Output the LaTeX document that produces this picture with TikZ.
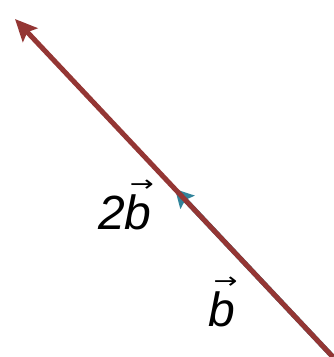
\documentclass[tikz,border=0pt]{standalone}
\usepackage{graphicx}
\usepackage{fontspec}
\setmainfont{Liberation Sans}
\newfontfamily\arrowfont{DejaVu Sans}
\usetikzlibrary{arrows.meta}
\definecolor{vecred}{HTML}{943634}
\definecolor{vecblue}{HTML}{31849B}
\newcommand{\vecbee}{\leavevmode\hbox{\ooalign{\itshape b\cr\hidewidth\kern7pt\raisebox{38pt}{\scalebox{1.3}[1]{\arrowfont\fontsize{22}{22}\selectfont →}}\hidewidth\cr}}}
\begin{document}
\begin{tikzpicture}[x=1pt,y=-1pt,
  bigvec/.style={draw=vecred,line width=5pt,-{Stealth[length=22pt,width=20pt,inset=4pt]}},
  smallvec/.style={draw=vecblue,line width=5pt,-{Stealth[length=18pt,width=19pt,inset=3pt]}},
  lbl/.style={inner sep=0pt,font=\fontsize{48}{52}\selectfont\itshape}]
\useasboundingbox (0,0) rectangle (333,357);
\fill[white] (0,0) rectangle (333,357);
\coordinate (O) at (333,357);
\coordinate (M) at (175,189);
\coordinate (T) at (15,19);
\draw[smallvec] (O) -- (M);
\draw[bigvec] (O) -- (T);
\node[lbl] (l2b) at (125,212) {2\vecbee};
\node[lbl] (lb) at (222,309) {\vecbee};
\end{tikzpicture}
\end{document}
